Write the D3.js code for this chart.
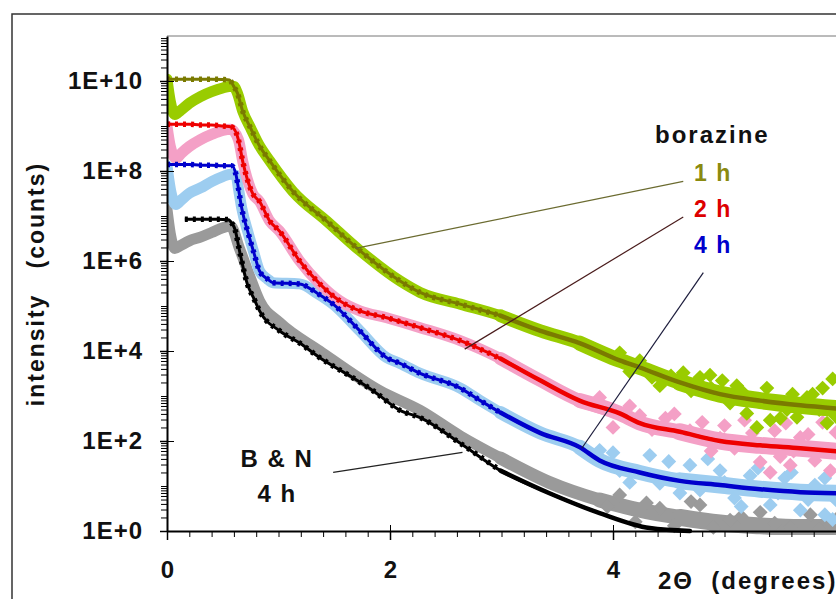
<!DOCTYPE html>
<html>
<head>
<meta charset="utf-8">
<script src="https://cdn.jsdelivr.net/npm/d3@7"></script>
<style>body{margin:0;background:#fff}</style>
</head>
<body>
<svg></svg>
<script>
const width = 836;
const height = 599;

// measured curves, [2theta (deg), intensity (counts)]
const line1h = [[0,1.1e10],[0.1,1.1e10],[0.2,1.1e10],[0.3,1.1e10],[0.4,1.1e10],[0.5,1.08e10],[0.56,1.05e10],
  [0.6,7.5e9],[0.63,5.5e9],[0.68,2.1e9],[0.75,9e8],[0.82,4e8],[0.92,1.7e8],[1.13,3.5e7],[1.43,7.8e6],
  [1.73,1.7e6],[2.09,3.6e5],[2.27,2.0e5],[2.63,1.1e5],[2.99,6.1e4],[3.35,2.8e4],[3.70,1.5e4],[4.06,6.2e3],
  [4.24,4.3e3],[4.60,2.0e3],[4.96,1.1e3],[5.32,790],[5.68,620],[6.0,530]];
const line2h = [[0,1.1e9],[0.1,1.1e9],[0.2,1.1e9],[0.3,1.05e9],[0.4,1.05e9],[0.5,1.0e9],[0.58,9.5e8],
  [0.64,5e8],[0.68,1.6e8],[0.77,3.1e7],[0.83,2.1e7],[0.92,7.8e6],[1.01,4.6e6],[1.19,1.0e6],[1.37,3.1e5],
  [1.55,1.3e5],[1.73,7.8e4],[1.97,5.5e4],[2.27,3.3e4],[2.63,1.7e4],[2.99,6.8e3],[3.35,2.2e3],[3.70,790],
  [4.06,410],[4.24,250],[4.60,160],[4.96,100],[5.32,80],[5.68,69],[6.0,59]];
const line4h = [[0,1.4e8],[0.1,1.4e8],[0.2,1.4e8],[0.3,1.35e8],[0.4,1.35e8],[0.5,1.3e8],[0.58,1.3e8],
  [0.62,8e7],[0.64,4.2e7],[0.67,1.5e7],[0.73,4e6],[0.78,1.5e6],[0.83,6e5],[0.9,4e5],[0.95,3.3e5],
  [1.19,3.1e5],[1.35,1.9e5],[1.49,1.1e5],[1.73,2.8e4],[1.97,7.1e3],[2.09,5.3e3],[2.27,3.2e3],[2.63,1.5e3],
  [2.81,790],[2.99,430],[3.35,150],[3.70,73],[3.88,37],[4.24,20],[4.60,13],[4.96,10.5],[5.32,8.5],
  [5.68,7.3],[6.0,6.9]];
const lineBN = [[0.16,8.5e6],[0.25,8.5e6],[0.35,8.5e6],[0.45,8.5e6],[0.55,8.3e6],[0.58,7e6],
  [0.61,5e6],[0.65,1.7e6],[0.72,3.1e5],[0.78,1.45e5],[0.83,7.8e4],[1.01,2.8e4],[1.19,1.5e4],[1.37,7.1e3],
  [1.61,3.1e3],[1.85,1.3e3],[2.09,480],[2.27,330],[2.63,89],[2.99,22],[3.43,6.9],[3.88,2.5],
  [4.33,1.16],[4.69,1.0]];

// wide marker bands (start of each band, then it follows its line)
const band1hHead = [[0,1.1e10],[0.03,3.5e9],[0.07,1.8e9],[0.12,2.2e9],[0.2,3.2e9],[0.3,4.5e9],[0.4,5.8e9],[0.5,7e9],[0.56,7.5e9]];
const band2hHead = [[0,1.0e9],[0.03,3.5e8],[0.08,1.9e8],[0.13,2.5e8],[0.2,3.5e8],[0.3,5e8],[0.4,6.5e8],[0.5,8e8],[0.57,8.5e8]];
const band4hHead = [[0,1.3e8],[0.03,4e7],[0.08,1.8e7],[0.13,2.3e7],[0.2,3.2e7],[0.3,4.2e7],[0.4,5.8e7],[0.5,7.5e7],[0.57,8.5e7]];
const bandBN = [[0,1.4e7],[0.03,4e6],[0.07,1.9e6],[0.12,2.2e6],[0.2,2.8e6],[0.3,3.4e6],[0.4,4.3e6],[0.5,5.5e6],
  [0.57,6e6],[0.65,1.9e6],[0.74,4.7e5],[0.83,1.3e5],[1.01,4.3e4],[1.37,1.0e4],[1.91,1.3e3],[2.27,480],
  [2.63,130],[2.99,42],[3.43,12],[3.88,4.9],[4.24,2.9],[4.60,2.0],[4.96,1.5],[5.32,1.3],[5.68,1.2],[6.0,1.2]];

// scattered markers in the noisy tails
const scatter1h = [[4.06,9100],[4.15,3500],[4.24,6100],[4.35,2600],[4.42,1700],[4.52,2800],[4.63,3300],
  [4.70,1300],[4.78,2600],[4.87,2900],[4.88,1500],[4.98,2200],[5.05,700],[5.11,1700],[5.15,1300],
  [5.20,410],[5.29,200],[5.38,1500],[5.41,290],[5.47,700],[5.50,320],[5.56,500],[5.61,1100],[5.65,335],
  [5.74,930],[5.79,1100],[5.85,500],[5.88,1500],[5.92,250],[5.97,2400],[6.0,350]];
const scatter2h = [[3.88,930],[4.0,200],[4.15,600],[4.24,370],[4.35,180],[4.47,320],[4.55,400],[4.69,170],
  [4.8,260],[4.88,60],[4.96,115],[5.0,220],[5.09,69],[5.18,290],[5.25,150],[5.32,34],[5.41,20],[5.45,170],
  [5.5,45],[5.55,250],[5.59,29],[5.62,60],[5.68,120],[5.75,140],[5.81,37],[5.88,260],[5.95,22],[6.0,155]];
const scatter4h = [[3.88,62],[4.0,55],[4.06,22],[4.15,12],[4.33,48],[4.42,11.5],[4.5,35],[4.6,7],[4.69,29],
  [4.78,8.1],[4.85,40],[4.96,22],[5.0,12],[5.09,5.4],[5.15,3.5],[5.23,17],[5.3,25],[5.41,3.8],[5.48,7],
  [5.54,15],[5.6,20],[5.68,2.9],[5.75,5],[5.81,10.5],[5.9,15],[5.90,2.3],[5.97,1.8],[6.0,4.9]];
const scatterBN = [[3.95,3.5],[4.06,6.3],[4.2,1.6],[4.3,4.2],[4.42,3.2],[4.55,1.3],[4.7,4.5],[4.78,3.8],
  [4.9,1.2],[5.05,1.75],[5.15,2.1],[5.32,2.6],[5.45,1.5],[5.59,1.2],[5.77,2.3],[5.85,1.1],[5.95,1.4],[6.0,1.8]];

// leader lines from labels to curves
const leader1h = [[4.63,5.9e7],[1.69,1.9e6]];
const leader2h = [[4.63,9.5e6],[2.67,1.1e4]];
const leader4h = [[4.81,5.5e5],[3.72,69]];
const leaderBN = [[1.49,20],[2.65,56]];

const xTicks = [0, 2, 4];
const yTicks = [1e0, 1e2, 1e4, 1e6, 1e8, 1e10];
const yTickLabels = ["1E+0", "1E+2", "1E+4", "1E+6", "1E+8", "1E+10"];

const font = '"Liberation Sans", Arial, sans-serif';

const svg = d3.select("svg")
  .attr("width", width)
  .attr("height", height)
  .style("font-family", font)
  .style("font-weight", "bold");

svg.append("rect").attr("width", width).attr("height", height).attr("fill", "#fff");
svg.append("rect")
  .attr("x", 12).attr("y", 14).attr("width", 900).attr("height", 700)
  .attr("fill", "none").attr("stroke", "#333").attr("stroke-width", 1.5);

const x = d3.scaleLinear().domain([0, 6]).range([167, 836]);
const y = d3.scaleLog().domain([1, 1e11]).range([531, 36]);

// plot area border (top)
svg.append("line")
  .attr("x1", x(0)).attr("x2", x(6)).attr("y1", y(1e11)).attr("y2", y(1e11))
  .attr("stroke", "#777").attr("stroke-width", 1);

svg.append("clipPath").attr("id", "plot")
  .append("rect").attr("x", x(0)).attr("y", y(1e11))
  .attr("width", x(6) - x(0)).attr("height", y(1) - y(1e11) + 4);

const plot = svg.append("g").attr("clip-path", "url(#plot)");

const line = d3.line()
  .x(d => x(d[0]))
  .y(d => y(d[1]))
  .curve(d3.curveMonotoneX);

const series = [
  { head: bandBN, line: lineBN, scatter: scatterBN, light: "#9a9a9a", dark: "#000" },
  { head: band4hHead, line: line4h, scatter: scatter4h, light: "#9dcdf0", dark: "#0000cc" },
  { head: band2hHead, line: line2h, scatter: scatter2h, light: "#f4a0c6", dark: "#ee0000" },
  { head: band1hHead, line: line1h, scatter: scatter1h, light: "#99cc00", dark: "#7a7a00" }
];

// the marker band gets a little wider as the data get noisier
const bandWidths = [[0, 11], [2.9, 13], [3.6, 15], [4.3, 17]];

series.forEach(s => {
  const band = s.head === bandBN ? bandBN
    : s.head.concat(s.line.filter(d => d[0] > s.head[s.head.length - 1][0] + 0.02));
  bandWidths.forEach(([from, w]) => {
    plot.append("path")
      .attr("d", line(band.filter(d => d[0] >= from)))
      .attr("fill", "none")
      .attr("stroke", s.light)
      .attr("stroke-width", w)
      .attr("stroke-linejoin", "round")
      .attr("stroke-linecap", "round");
  });
  plot.selectAll(null)
    .data(s.scatter)
    .enter()
    .append("path")
    .attr("d", d3.symbol().type(d3.symbolSquare).size(110))
    .attr("transform", d => `translate(${x(d[0])},${y(d[1])}) rotate(45)`)
    .attr("fill", s.light);
});

series.forEach(s => {
  plot.append("path")
    .attr("d", line(s.line))
    .attr("fill", "none")
    .attr("stroke", s.dark)
    .attr("stroke-width", 3);
  plot.append("path")
    .attr("d", line(s.line.filter(d => d[0] <= 3.0)))
    .attr("fill", "none")
    .attr("stroke", s.dark)
    .attr("stroke-width", 5.5)
    .attr("stroke-dasharray", "3 5");
  plot.append("path")
    .attr("d", line(s.line.filter(d => d[0] >= 2.99)))
    .attr("fill", "none")
    .attr("stroke", s.dark)
    .attr("stroke-width", 4.5)
    .attr("stroke-linecap", "round");
});

// leader lines
[[leader1h, "#6b6b30"], [leader2h, "#4a1c1c"], [leader4h, "#1c1c3c"], [leaderBN, "#222"]]
  .forEach(([pts, c]) => {
    svg.append("line")
      .attr("x1", x(pts[0][0])).attr("y1", y(pts[0][1]))
      .attr("x2", x(pts[1][0])).attr("y2", y(pts[1][1]))
      .attr("stroke", c).attr("stroke-width", 1.2);
  });

// y axis
const yMinor = [];
for (let e = 0; e < 11; e++) {
  for (let k = 2; k <= 9; k++) yMinor.push(k * Math.pow(10, e));
  if (e % 2 === 1) yMinor.push(Math.pow(10, e));
}

svg.append("g")
  .attr("transform", `translate(${x(0)},0)`)
  .call(d3.axisLeft(y).tickValues(yMinor).tickSize(6).tickSizeOuter(0).tickFormat(""))
  .call(g => g.select(".domain").remove());

svg.append("g")
  .attr("transform", `translate(${x(0)},0)`)
  .call(d3.axisRight(y).tickValues(yTicks).tickSize(7).tickSizeOuter(0).tickFormat(""))
  .call(g => g.select(".domain").remove());

const yAxis = svg.append("g")
  .attr("transform", `translate(${x(0)},0)`)
  .call(d3.axisLeft(y).tickValues(yTicks).tickSize(7).tickSizeOuter(0)
    .tickPadding(17).tickFormat((d, i) => yTickLabels[i]));
yAxis.attr("font-family", font).attr("font-size", 24).attr("font-weight", "bold");
yAxis.selectAll("text").attr("fill", "#111").attr("letter-spacing", 1);
yAxis.select(".domain").attr("stroke-width", 2);
yAxis.selectAll(".tick line").attr("stroke-width", 1.5);

// x axis
const xMinor = d3.range(0, 6.01, 0.2);
svg.append("g")
  .attr("transform", `translate(0,${y(1)})`)
  .call(d3.axisBottom(x).tickValues(xMinor).tickSize(6).tickSizeOuter(0).tickFormat(""))
  .call(g => g.select(".domain").remove());

svg.append("g")
  .attr("transform", `translate(0,${y(1)})`)
  .call(d3.axisTop(x).tickValues(xTicks).tickSize(6).tickSizeOuter(0).tickFormat(""))
  .call(g => g.select(".domain").remove());

const xAxis = svg.append("g")
  .attr("transform", `translate(0,${y(1)})`)
  .call(d3.axisBottom(x).tickValues(xTicks).tickSize(9).tickSizeOuter(0)
    .tickPadding(21).tickFormat(d3.format("d")));
xAxis.attr("font-family", font).attr("font-size", 24).attr("font-weight", "bold");
xAxis.selectAll("text").attr("fill", "#111");
xAxis.select(".domain").attr("stroke-width", 2);
xAxis.selectAll(".tick line").attr("stroke-width", 1.5);

// titles
svg.append("text")
  .attr("transform", `translate(44,284) rotate(-90)`)
  .attr("text-anchor", "middle")
  .attr("font-size", 23)
  .attr("letter-spacing", 2)
  .attr("fill", "#111")
  .attr("xml:space", "preserve")
  .text("intensity   (counts)");

svg.append("text")
  .attr("x", 658).attr("y", 589)
  .attr("font-size", 24)
  .attr("letter-spacing", 2)
  .attr("fill", "#111")
  .attr("xml:space", "preserve")
  .text("2Θ  (degrees)");

// labels
svg.append("text").attr("x", 655).attr("y", 143)
  .attr("font-size", 24).attr("letter-spacing", 2).attr("fill", "#111").text("borazine");
svg.append("text").attr("x", 694).attr("y", 181)
  .attr("font-size", 23).attr("letter-spacing", 1.5).attr("fill", "#8a8a10")
  .attr("xml:space", "preserve").text("1 h");
svg.append("text").attr("x", 694).attr("y", 217)
  .attr("font-size", 23).attr("letter-spacing", 1.5).attr("fill", "#dd0000")
  .attr("xml:space", "preserve").text("2 h");
svg.append("text").attr("x", 694).attr("y", 253)
  .attr("font-size", 23).attr("letter-spacing", 1.5).attr("fill", "#0000cc")
  .attr("xml:space", "preserve").text("4 h");

svg.append("text").attr("x", 277).attr("y", 467)
  .attr("text-anchor", "middle").attr("font-size", 24).attr("letter-spacing", 1.5)
  .attr("fill", "#111").attr("xml:space", "preserve").text("B & N");
svg.append("text").attr("x", 277).attr("y", 502)
  .attr("text-anchor", "middle").attr("font-size", 24).attr("letter-spacing", 1.5)
  .attr("fill", "#111").attr("xml:space", "preserve").text("4 h");
</script>
</body>
</html>
